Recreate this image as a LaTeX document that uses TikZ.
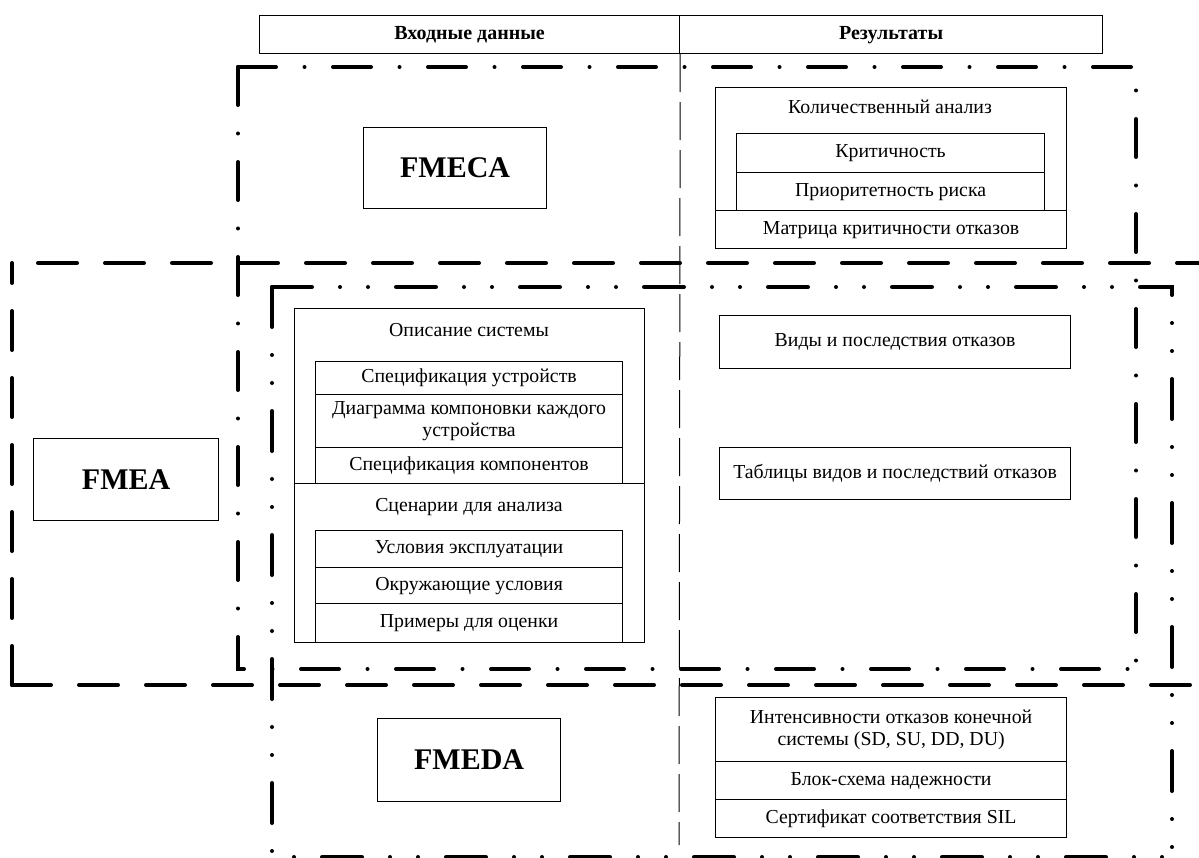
\documentclass[tikz,border=0pt]{standalone}
\usepackage{fontspec}
\setmainfont{Liberation Serif}
\tikzset{
  bx/.style={draw, line width=1.2pt, inner sep=0pt, anchor=north west, align=center, font=\fontsize{19.8}{22}\selectfont},
  one/.style={text height=13.5pt, text depth=4.5pt},
  hd/.style={draw, line width=1.2pt, inner sep=0pt, anchor=north west, text height=14pt, text depth=4.5pt, font=\fontsize{20}{22}\selectfont\bfseries},
  big/.style={draw, line width=1.2pt, inner sep=0pt, anchor=north west, font=\fontsize{30}{32}\selectfont\bfseries},
  lbl/.style={inner sep=0pt, text height=13.5pt, text depth=4.5pt, font=\fontsize{19.8}{22}\selectfont},
  thindash/.style={line width=1pt, dash pattern=on 38pt off 10pt},
  dashdotline/.style={line width=4pt, line cap=round, dash pattern=on 38pt off 28.5pt on 0pt off 28.5pt},
  dashline/.style={line width=4pt, line cap=round, dash pattern=on 39pt off 28pt},
  dashddline/.style={line width=4pt, line cap=round, dash pattern=on 40pt off 28pt on 0pt off 28pt on 0pt off 28pt},
}
\begin{document}
\begin{tikzpicture}[x=1pt,y=-1pt]
\useasboundingbox (0,0) rectangle (1199,858);
% header
\node[hd, minimum width=420pt, minimum height=38pt] (hin) at (259,15) {Входные данные};
\node[hd, minimum width=423pt, minimum height=38pt] (hout) at (679,15) {Результаты};
\coordinate (vend) at (679,845);
\draw[thindash] (hin.south east) -- (vend);
% FMECA region (dash-dot)
\coordinate (ecaTL) at (238,67);
\coordinate (ecaTR) at (1136,67);
\coordinate (ecaBL) at (238,669);
\coordinate (ecaBR) at (1136,669);
\draw[dashdotline] (ecaTL) -- (ecaTR) -- (ecaBR);
\draw[dashdotline] (ecaTL) -- (ecaBL) -- (ecaBR);
% FMEA region (dashed, open to the right)
\coordinate (eaTL) at (12,263);
\coordinate (eaTS) at (38,263);
\coordinate (eaTR) at (1199,263);
\coordinate (eaBL) at (12,685);
\coordinate (eaBR) at (1199,685);
\draw[dashline] (eaTS) -- (eaTR);
\draw[dashline] (eaBL) -- (eaTL);
\draw[dashline] (eaBL) -- (eaBR);
% FMEDA region (dash-dot-dot)
\coordinate (edaTL) at (272,287);
\coordinate (edaTR) at (1172,287);
\coordinate (edaBL) at (272,857);
\coordinate (edaBR) at (1172,857);
\draw[dashddline] (edaTL) -- (edaTR) -- (edaBR);
\draw[dashddline] (edaTL) -- (edaBL) -- (edaBR);
% method boxes
\node[big, minimum width=183pt, minimum height=81pt] (fmeca) at (363,127) {FMECA};
\node[big, minimum width=185pt, minimum height=82pt] (fmea) at (33,438) {FMEA};
\node[big, minimum width=183pt, minimum height=83pt] (fmeda) at (377,718) {FMEDA};
% FMECA results
\node[bx, minimum width=351pt, minimum height=161pt] (qa) at (715,87) {};
\node[lbl] (qat) at (890,109) {Количественный анализ};
\node[bx, one, minimum width=308pt, minimum height=39pt] (crit) at (736,133) {Критичность};
\node[bx, one, minimum width=308pt, minimum height=38pt] (prio) at (736,172) {Приоритетность риска};
\node[bx, one, minimum width=351pt, minimum height=38pt] (matr) at (715,210) {Матрица критичности отказов};
% FMEA results
\node[bx, one, minimum width=351pt, minimum height=53pt] (vid) at (719,315) {Виды и последствия отказов};
\node[bx, one, minimum width=351pt, minimum height=52pt] (tab) at (719,447) {Таблицы видов и последствий отказов};
% inputs
\node[bx, minimum width=350pt, minimum height=175pt] (opis) at (294,308) {};
\node[lbl] (opist) at (469,332) {Описание системы};
\node[bx, one, minimum width=307pt, minimum height=33pt] (spu) at (315,361) {Спецификация устройств};
\node[bx, minimum width=307pt, minimum height=53pt] (diag) at (315,394) {Диаграмма компоновки каждого\\устройства};
\node[bx, one, minimum width=307pt, minimum height=36pt] (spk) at (315,447) {Спецификация компонентов};
\node[bx, minimum width=350pt, minimum height=159pt] (scen) at (294,483) {};
\node[lbl] (scent) at (469,507) {Сценарии для анализа};
\node[bx, one, minimum width=307pt, minimum height=37pt] (usl) at (315,530) {Условия эксплуатации};
\node[bx, one, minimum width=307pt, minimum height=36pt] (okr) at (315,567) {Окружающие условия};
\node[bx, one, minimum width=307pt, minimum height=39pt] (prim) at (315,603) {Примеры для оценки};
% FMEDA results
\node[bx, minimum width=351pt, minimum height=64pt] (int) at (715,697) {Интенсивности отказов конечной\\системы (SD, SU, DD, DU)};
\node[bx, one, minimum width=351pt, minimum height=38pt] (blk) at (715,761) {Блок-схема надежности};
\node[bx, one, minimum width=351pt, minimum height=38pt] (sert) at (715,799) {Сертификат соответствия SIL};
\end{tikzpicture}
\end{document}
